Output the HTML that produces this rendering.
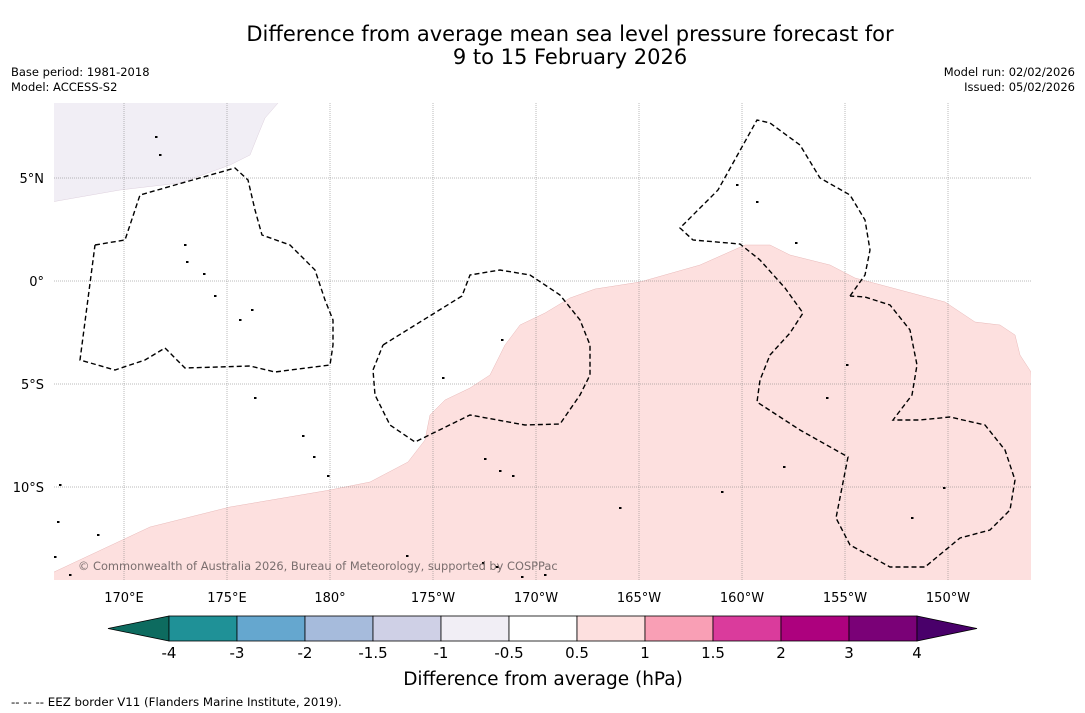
<!DOCTYPE html>
<html><head><meta charset="utf-8"><style>
body{margin:0;background:#fff;font-family:"Liberation Sans","DejaVu Sans",sans-serif}
svg{display:block}
</style></head><body>
<svg width="1085" height="713" viewBox="0 0 1085 713" font-family="DejaVu Sans, Liberation Sans, sans-serif">
<text x="570" y="41" font-size="21" text-anchor="middle">Difference from average mean sea level pressure forecast for</text>
<text x="570" y="64" font-size="21" text-anchor="middle">9 to 15 February 2026</text>
<text x="11" y="76" font-size="11.5">Base period: 1981-2018</text>
<text x="11" y="91" font-size="11.5">Model: ACCESS-S2</text>
<text x="1075" y="76" font-size="11.5" text-anchor="end">Model run: 02/02/2026</text>
<text x="1075" y="91" font-size="11.5" text-anchor="end">Issued: 05/02/2026</text>
<defs><clipPath id="mc"><rect x="54" y="103" width="977" height="477"/></clipPath></defs>
<g id="map" clip-path="url(#mc)"></g>
<g id="axes"></g>
<text x="78" y="570" font-size="11.4" fill="#7a6e6e">© Commonwealth of Australia 2026, Bureau of Meteorology, supported by COSPPac</text>
<g id="cbar"></g>
<text x="543" y="685" font-size="18.5" text-anchor="middle">Difference from average (hPa)</text>
<text x="11" y="706" font-size="11.8">--  --  -- EEZ border V11 (Flanders Marine Institute, 2019).</text>
</svg>
<script>
const NS="http://www.w3.org/2000/svg";
const lonTicks=[170,175,180,185,190,195,200,205,210];
const lonLabels=["170°E","175°E","180°","175°W","170°W","165°W","160°W","155°W","150°W"];
const latTicks=[5,0,-5,-10];
const latLabels=["5°N","0°","5°S","10°S"];
const cbLevels=["-4","-3","-2","-1.5","-1","-0.5","0.5","1","1.5","2","3","4"];
const cbColors=["#1f9197","#65a7cf","#a6bbdc","#cfd0e6","#f1eef5","#ffffff","#fde0df","#f99fb5","#da3b9c","#ad017e","#7a0177"];
const cbUnder="#0d6b5f", cbOver="#49006a";
function X(lon){return 124+(lon-170)*20.6;}
function Y(lat){return 281-lat*20.6;}
function P(px){return px.map(p=>[170+(p[0]-124)/20.6,(281-p[1])/20.6]);}
const pinkRegion=P([[54,572],[150,527],[230,507],[330,490],[370,482],[408,462],[425,440],[430,415],[445,400],[470,388],[490,375],[505,345],[520,325],[545,313],[570,298],[595,289],[640,282],[700,265],[745,245],[770,245],[790,255],[830,265],[855,278],[900,290],[945,302],[975,322],[1000,325],[1015,335],[1020,355],[1031,372],[1040,600],[40,600]]);
const purpleRegion=P([[40,95],[285,95],[265,118],[258,135],[250,155],[230,165],[180,183],[120,190],[40,204]]);
const eez1=P([[95,245],[125,240],[140,195],[175,185],[235,168],[248,180],[255,210],[262,235],[290,245],[315,270],[325,300],[333,320],[333,345],[330,365],[275,372],[250,366],[185,368],[165,348],[145,360],[115,370],[80,360],[95,245]]);
const eez2=P([[383,345],[462,296],[470,275],[500,270],[530,275],[560,295],[580,320],[590,345],[590,375],[580,395],[560,424],[525,425],[470,415],[415,442],[390,425],[375,395],[373,370],[383,345]]);
const eez3=P([[850,296],[865,275],[870,250],[865,220],[850,195],[820,178],[800,145],[770,123],[757,120],[718,190],[680,228],[693,240],[740,244],[760,260],[785,288],[803,313],[790,333],[770,355],[760,380],[757,402],[800,430],[848,457],[836,518],[850,545],[890,567],[925,567],[960,538],[990,530],[1010,510],[1015,480],[1005,450],[985,425],[950,417],[920,420],[893,420],[912,395],[917,365],[910,330],[890,305],[865,297],[850,296]]);
const islands=P([[156,137],[160,155],[185,245],[187,262],[204,274],[215,296],[240,320],[252,310],[255,398],[303,436],[314,457],[328,476],[502,340],[443,378],[485,459],[500,471],[513,476],[483,563],[497,567],[522,577],[545,575],[722,492],[784,467],[827,398],[847,365],[944,488],[912,518],[60,485],[58,522],[98,535],[70,575],[55,557],[757,202],[796,243],[407,556],[737,185],[620,508]]);
function mk(tag,attrs,parent){const e=document.createElementNS(NS,tag);for(const k in attrs)e.setAttribute(k,attrs[k]);parent.appendChild(e);return e;}
function pts(a){return a.map(p=>X(p[0]).toFixed(1)+","+Y(p[1]).toFixed(1)).join(" ");}
const map=document.getElementById("map");
let e=mk("polygon",{points:pts(purpleRegion),fill:"#f1eef5",stroke:"#ddd0dd","stroke-width":"0.5"},map);


e=mk("polygon",{points:pts(pinkRegion),fill:"#fde0df",stroke:"#e8b8b8","stroke-width":"0.5"},map);


const ax=document.getElementById("axes");
lonTicks.forEach((l,i)=>{
 const g=mk("line",{x1:X(l),x2:X(l),y1:103,y2:580,stroke:"#777","stroke-width":"0.5","stroke-dasharray":"1,1"},map);
 
 
 const t=mk("text",{x:X(l),y:602,"font-size":"13","text-anchor":"middle"},ax);t.textContent=lonLabels[i];
 
 
});
latTicks.forEach((l,i)=>{
 const g=mk("line",{x1:54,x2:1031,y1:Y(l),y2:Y(l),stroke:"#777","stroke-width":"0.5","stroke-dasharray":"1,1"},map);
 
 
 const t=mk("text",{x:44,y:Y(l)+5,"font-size":"13","text-anchor":"end"},ax);t.textContent=latLabels[i];
 
 
});
islands.forEach(p=>{
 const c=mk("rect",{x:X(p[0])-1,y:Y(p[1])-1,width:2.5,height:2,fill:"#000"},map);
 
 
});
[eez1,eez2,eez3].forEach(s=>{
 const p=mk("polyline",{points:pts(s),fill:"none",stroke:"#000","stroke-width":"1.4","stroke-dasharray":"5,3"},map);
 
 
});
const cb=document.getElementById("cbar");
const cx0=169,cw=68,cy=616,ch=25;
let t=mk("polygon",{points:`108,${cy+ch/2} ${cx0},${cy} ${cx0},${cy+ch}`,fill:cbUnder,stroke:"#000","stroke-width":"0.8"},cb);


cbColors.forEach((c,i)=>{
 const r=mk("rect",{x:cx0+i*cw,y:cy,width:cw,height:ch,fill:c,stroke:"#000","stroke-width":"0.8"},cb);
 
 
});
const xe=cx0+cbColors.length*cw;
t=mk("polygon",{points:`${xe},${cy} ${xe+60},${cy+ch/2} ${xe},${cy+ch}`,fill:cbOver,stroke:"#000","stroke-width":"0.8"},cb);


cbLevels.forEach((l,i)=>{
 const tx=mk("text",{x:cx0+i*cw,y:658,"font-size":"15","text-anchor":"middle"},cb);tx.textContent=l;
 
 
});
</script>
</body></html>
